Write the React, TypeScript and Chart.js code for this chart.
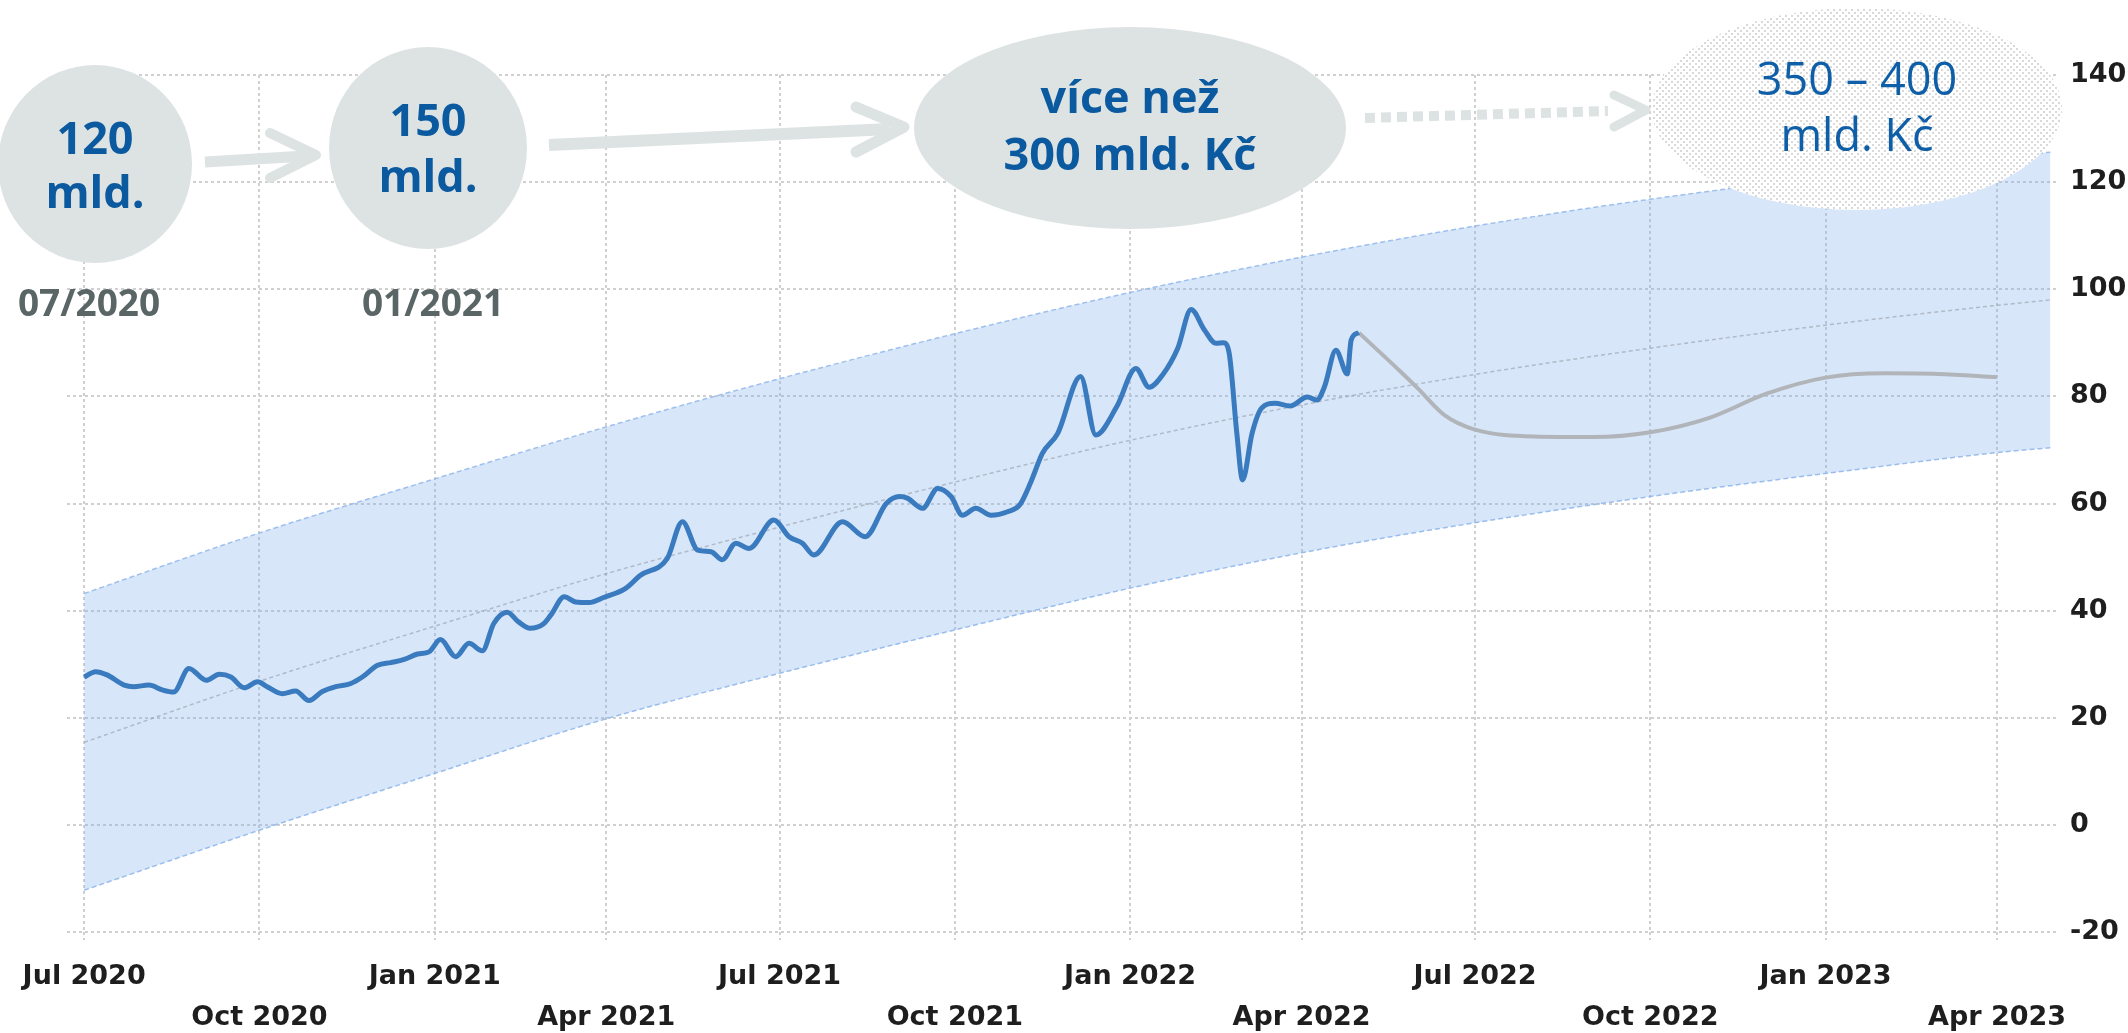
import React, { useEffect, useRef } from 'react';
import { Chart, registerables } from 'chart.js';

Chart.register(...registerables);

// ---------- data ----------
const tickDates = ['2020-07-01', '2020-10-01', '2021-01-01', '2021-04-01', '2021-07-01', '2021-10-01', '2022-01-01', '2022-04-01', '2022-07-01', '2022-10-01', '2023-01-01', '2023-04-01'];
const tickLabels = ['Jul 2020', 'Oct 2020', 'Jan 2021', 'Apr 2021', 'Jul 2021', 'Oct 2021', 'Jan 2022', 'Apr 2022', 'Jul 2022', 'Oct 2022', 'Jan 2023', 'Apr 2023'];
const xStart = '2020-06-22';
const xEnd = '2023-05-03';
const yMin = -20;
const yMax = 140;
const yStep = 20;

const actualDates = [
  '2020-07-01', '2020-07-07', '2020-07-13', '2020-07-22', '2020-07-27', '2020-08-04', '2020-08-11', '2020-08-17', '2020-08-25',
  '2020-09-03', '2020-09-10', '2020-09-16', '2020-09-23', '2020-09-30', '2020-10-05', '2020-10-13', '2020-10-20', '2020-10-27',
  '2020-11-03', '2020-11-10', '2020-11-18', '2020-11-24', '2020-12-02', '2020-12-09', '2020-12-16', '2020-12-23', '2020-12-29',
  '2021-01-04', '2021-01-12', '2021-01-19', '2021-01-26', '2021-02-01', '2021-02-08', '2021-02-14', '2021-02-20', '2021-02-27',
  '2021-03-03', '2021-03-10', '2021-03-16', '2021-03-23', '2021-03-31', '2021-04-11', '2021-04-19', '2021-05-03', '2021-05-11',
  '2021-05-19', '2021-05-26', '2021-06-01', '2021-06-08', '2021-06-15', '2021-06-28', '2021-07-06', '2021-07-13', '2021-07-19',
  '2021-08-03', '2021-08-15', '2021-08-26', '2021-09-02', '2021-09-06', '2021-09-14', '2021-09-22', '2021-09-29', '2021-10-05',
  '2021-10-12', '2021-10-20', '2021-10-29', '2021-11-04', '2021-11-10', '2021-11-16', '2021-11-24', '2021-12-06', '2021-12-14',
  '2021-12-25', '2022-01-04', '2022-01-11', '2022-01-18', '2022-01-26', '2022-02-02', '2022-02-09', '2022-02-15', '2022-02-19',
  '2022-02-22', '2022-02-26', '2022-03-01', '2022-03-06', '2022-03-11', '2022-03-18', '2022-03-26', '2022-04-04', '2022-04-09',
  '2022-04-13', '2022-04-19', '2022-04-25', '2022-04-27', '2022-05-01'
];
const actualValues = [
  27.6, 28.6, 28.0, 26.1, 25.8, 26.1, 25.2, 24.8, 29.2,
  27.0, 28.1, 27.6, 25.6, 26.7, 25.8, 24.5, 25.0, 23.2,
  24.9, 25.8, 26.4, 27.6, 29.8, 30.3, 30.9, 31.9, 32.3,
  34.6, 31.4, 33.9, 32.5, 37.6, 39.7, 37.9, 36.7, 37.5,
  39.2, 42.6, 41.6, 41.5, 42.5, 44.1, 46.6, 49.7, 56.6,
  51.3, 51.0, 49.5, 52.6, 51.6, 56.9, 53.8, 52.6, 50.4,
  56.6, 53.8, 60.0, 61.3, 61.0, 59.1, 62.8, 61.3, 57.8,
  59.1, 57.8, 58.5, 59.7, 64.1, 69.4, 73.1, 83.7, 72.8,
  78.1, 85.2, 81.7, 84.0, 89.0, 96.2, 92.4, 89.9, 90.0,
  88.0, 73.1, 64.4, 73.1, 77.8, 78.7, 78.2, 79.9, 79.3,
  81.8, 88.6, 84.2, 90.5, 91.9
];

const forecastDates = ['2022-05-01', '2022-05-23', '2022-06-01', '2022-06-15', '2022-07-01', '2022-08-01', '2022-09-01', '2022-10-01', '2022-11-01', '2022-12-01', '2023-01-01', '2023-02-01', '2023-03-01', '2023-04-01'];
const forecastValues = [91.9, 84.6, 81.5, 76.5, 73.8, 72.5, 72.4, 73.3, 76.0, 80.5, 83.5, 84.3, 84.2, 83.6];

const bandDates = ['2020-07-01', '2020-10-01', '2021-01-01', '2021-04-01', '2021-07-01', '2021-10-01', '2022-01-01', '2022-04-01', '2022-07-01', '2022-10-01', '2023-01-01', '2023-04-01', '2023-04-29'];
const bandUpper = [43.2, 54.5, 64.6, 74.3, 83.3, 91.7, 99.4, 106.0, 111.8, 116.8, 121.0, 124.5, 125.6];
const bandLower = [-12.2, -1.0, 9.6, 19.8, 28.3, 36.4, 44.2, 50.8, 56.4, 61.3, 65.6, 69.5, 70.4];
const trendValues = [15.4, 26.8, 37.1, 46.9, 55.6, 64.0, 71.8, 78.4, 84.1, 89.0, 93.3, 97.0, 98.0];

// ---------- helpers ----------
const DAY_MS = 86400000;
const ORIGIN = Date.UTC(2020, 6, 1);
const toDay = (s: string) => {
  const [y, m, d] = s.split('-').map(Number);
  return (Date.UTC(y, m - 1, d) - ORIGIN) / DAY_MS;
};
const pts = (dates: string[], vals: number[]) => dates.map((d, i) => ({ x: toDay(d), y: vals[i] }));

const BUBBLE = '#dde3e3';
const BLUE_TEXT = '#0b5aa0';

let dotPattern: CanvasPattern | null = null;
const getPattern = (ctx: CanvasRenderingContext2D) => {
  if (dotPattern) return dotPattern;
  const c = document.createElement('canvas');
  c.width = 6;
  c.height = 6;
  const g = c.getContext('2d')!;
  g.fillStyle = '#ffffff';
  g.fillRect(0, 0, 6, 6);
  g.fillStyle = '#d9d9d9';
  g.fillRect(0, 0, 2, 2);
  g.fillRect(3, 3, 2, 2);
  dotPattern = ctx.createPattern(c, 'repeat');
  return dotPattern;
};

const overlayPlugin = {
  id: 'overlayBubbles',
  afterDraw(chart: any) {
    const ctx: CanvasRenderingContext2D = chart.ctx;
    ctx.save();

    const ellipse = (cx: number, cy: number, rx: number, ry: number, fill: any) => {
      ctx.beginPath();
      ctx.ellipse(cx, cy, rx, ry, 0, 0, Math.PI * 2);
      ctx.fillStyle = fill;
      ctx.fill();
    };
    const line = (x1: number, y1: number, x2: number, y2: number, w: number, dash: number[] = []) => {
      ctx.beginPath();
      ctx.setLineDash(dash);
      ctx.lineCap = 'butt';
      ctx.lineWidth = w;
      ctx.strokeStyle = BUBBLE;
      ctx.moveTo(x1, y1);
      ctx.lineTo(x2, y2);
      ctx.stroke();
      ctx.setLineDash([]);
    };
    const chevron = (ax: number, ay: number, tx: number, ty: number, bx: number, by: number, w: number) => {
      ctx.beginPath();
      ctx.lineCap = 'round';
      ctx.lineJoin = 'round';
      ctx.lineWidth = w;
      ctx.strokeStyle = BUBBLE;
      ctx.moveTo(ax, ay);
      ctx.lineTo(tx, ty);
      ctx.lineTo(bx, by);
      ctx.stroke();
    };
    const text = (s: string, x: number, y: number, font: string, color: string) => {
      ctx.font = font;
      ctx.fillStyle = color;
      ctx.textAlign = 'center';
      ctx.textBaseline = 'middle';
      ctx.fillText(s, x, y);
    };

    // arrows
    line(205, 162, 306, 156, 11);
    chevron(270, 133, 316, 155, 270, 178, 10);
    line(549, 145, 890, 129, 12);
    chevron(856, 107, 904, 127, 856, 152, 11);
    line(1365, 118, 1608, 111, 10, [10, 6]);
    chevron(1614, 95, 1646, 110, 1614, 127, 9);

    // bubbles
    ellipse(95, 164, 97, 99, BUBBLE);
    ellipse(428, 148, 99, 101, BUBBLE);
    ellipse(1130, 128, 216, 101, BUBBLE);
    ellipse(1857, 109, 205, 101, getPattern(ctx));

    const boldF = "bold 45px 'Open Sans'";
    text('120', 95, 141, boldF, BLUE_TEXT);
    text('mld.', 95, 195, boldF, BLUE_TEXT);
    text('150', 428, 123, boldF, BLUE_TEXT);
    text('mld.', 428, 179, boldF, BLUE_TEXT);
    text('více než', 1130, 100, boldF, BLUE_TEXT);
    text('300 mld. Kč', 1130, 157, boldF, BLUE_TEXT);
    const regF = "45px 'Open Sans'";
    text('350 – 400', 1857, 82, regF, '#0e5fa8');
    text('mld. Kč', 1857, 138, regF, '#0e5fa8');

    const dateF = "bold 37px 'Open Sans'";
    text('07/2020', 89, 305, dateF, '#5a6566');
    text('01/2021', 433, 305, dateF, '#5a6566');

    ctx.restore();
  },
};

export default function App() {
  const canvasRef = useRef<HTMLCanvasElement | null>(null);

  useEffect(() => {
    document.body.style.margin = '0';
    if (!canvasRef.current) return;
    const tickFont = { family: "'DejaVu Sans'", weight: 'bold' as const, size: 27, lineHeight: 1.52 };
    const gridColor = '#d0d0d0';

    const chart = new Chart(canvasRef.current, {
      type: 'line',
      data: {
        datasets: [
          {
            label: 'actual',
            data: pts(actualDates, actualValues),
            borderColor: '#3a7bbf',
            borderWidth: 5,
            cubicInterpolationMode: 'monotone',
            pointRadius: 0,
            fill: false,
          },
          {
            label: 'forecast',
            data: pts(forecastDates, forecastValues),
            borderColor: '#b1b5b9',
            borderWidth: 4,
            cubicInterpolationMode: 'monotone',
            pointRadius: 0,
            fill: false,
          },
          {
            label: 'trend',
            data: pts(bandDates, trendValues),
            borderColor: 'rgba(150,156,166,0.6)',
            borderWidth: 1.5,
            borderDash: [4, 3],
            cubicInterpolationMode: 'monotone',
            pointRadius: 0,
            fill: false,
          },
          {
            label: 'upper',
            data: pts(bandDates, bandUpper),
            borderColor: 'rgba(150,186,236,0.9)',
            borderWidth: 1.5,
            borderDash: [5, 3],
            backgroundColor: 'rgba(122,172,235,0.3)',
            cubicInterpolationMode: 'monotone',
            pointRadius: 0,
            fill: '+1',
          },
          {
            label: 'lower',
            data: pts(bandDates, bandLower),
            borderColor: 'rgba(150,186,236,0.9)',
            borderWidth: 1.5,
            borderDash: [5, 3],
            cubicInterpolationMode: 'monotone',
            pointRadius: 0,
            fill: false,
          },
        ],
      },
      options: {
        animation: false,
        responsive: true,
        maintainAspectRatio: false,
        layout: { padding: { left: 67, top: 75, right: 0, bottom: 0 } },
        plugins: { legend: { display: false }, tooltip: { enabled: false } },
        scales: {
          x: {
            type: 'linear',
            min: toDay(xStart),
            max: toDay(xEnd),
            afterBuildTicks: (axis: any) => {
              axis.ticks = tickDates.map((d) => ({ value: toDay(d) }));
            },
            afterFit: (axis: any) => {
              axis.height = 101;
            },
            ticks: {
              autoSkip: false,
              maxRotation: 0,
              minRotation: 0,
              padding: 16,
              color: '#1e1e1e',
              font: tickFont,
              callback: (_v: any, i: number) => (i % 2 === 0 ? tickLabels[i] : ['', tickLabels[i]]),
            },
            grid: { color: gridColor, lineWidth: 2, drawTicks: true, tickLength: 8, tickColor: gridColor, tickBorderDash: [3, 3] },
            border: { display: false, dash: [3, 3] },
          },
          y: {
            type: 'linear',
            position: 'right',
            min: yMin,
            max: yMax,
            afterFit: (axis: any) => {
              axis.width = 70;
            },
            ticks: { stepSize: yStep, padding: 12, color: '#1e1e1e', font: { ...tickFont, lineHeight: 1.2 } },
            grid: { color: gridColor, lineWidth: 2, drawTicks: false },
            border: { display: false, dash: [3, 3] },
          },
        },
      },
      plugins: [overlayPlugin],
    } as any);

    return () => chart.destroy();
  }, []);

  return (
    <div style={{ position: 'relative', width: 2128, height: 1033 }}>
      <canvas ref={canvasRef} />
    </div>
  );
}
